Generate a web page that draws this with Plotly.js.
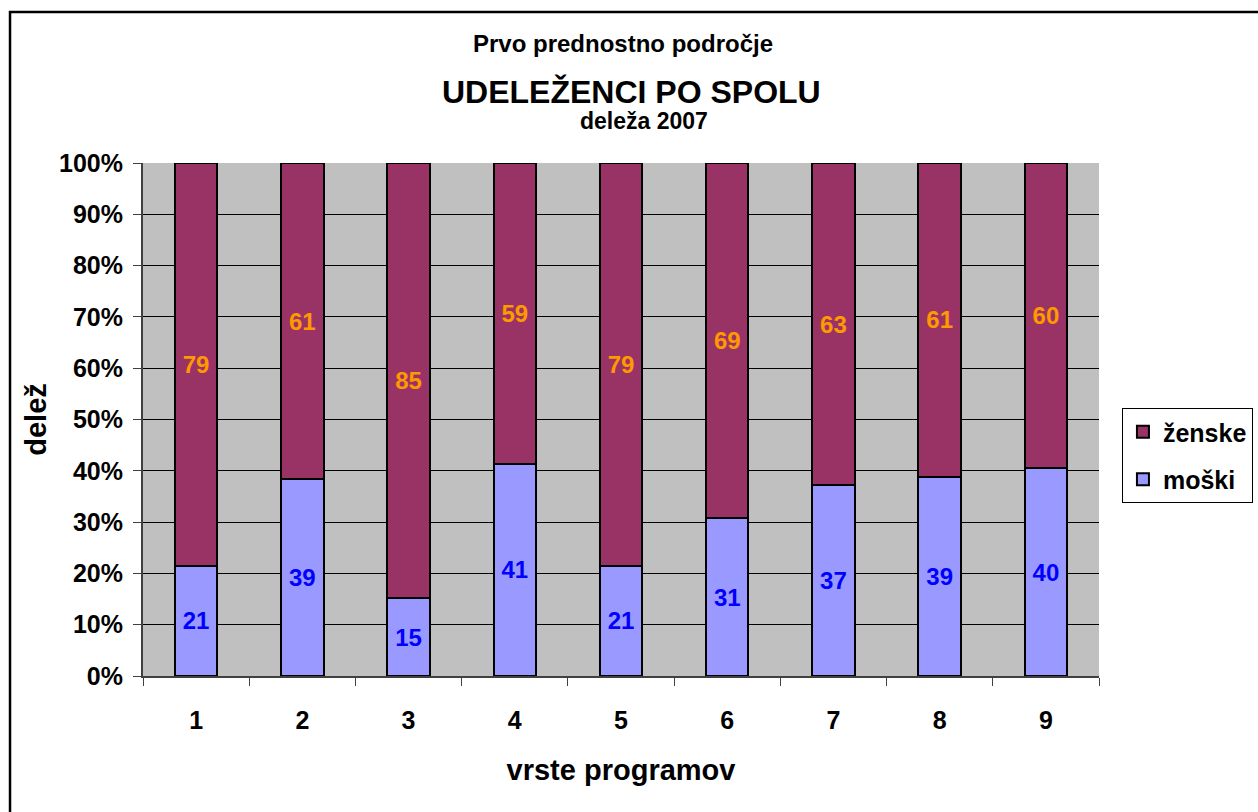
<!DOCTYPE html>
<html>
<head>
<meta charset="utf-8">
<script src="https://cdn.plot.ly/plotly-3.0.1.min.js"></script>
<style>html,body{margin:0;padding:0;background:#fff;}#chart{width:1258px;height:812px;}</style>
</head>
<body>
<div id="chart"></div>
<script>
const categories = ['1','2','3','4','5','6','7','8','9'];
const moski = [21.5, 38.4, 15.2, 41.4, 21.5, 30.8, 37.2, 38.8, 40.5];
const zenske = [78.5, 61.6, 84.8, 58.6, 78.5, 69.2, 62.8, 61.2, 59.5];
const moskiLabels = ['21','39','15','41','21','31','37','39','40'];
const zenskeLabels = ['79','61','85','59','79','69','63','61','60'];
const yTickVals = [0,10,20,30,40,50,60,70,80,90,100];
const yTickText = ['0%','10%','20%','30%','40%','50%','60%','70%','80%','90%','100%'];

const FONT = 'Arial, "Liberation Sans", sans-serif';

const traces = [
  {
    type: 'bar', name: 'moški', x: categories, y: moski,
    text: moskiLabels, textposition: 'inside', insidetextanchor: 'middle',
    textangle: 0, constraintext: 'none', legendrank: 2, legendgroup: 'm',
    textfont: {family: FONT, size: 24, color: '#0000FF', weight: 'bold'},
    marker: {color: '#9999FF', line: {color: '#000000', width: 2}},
    hoverinfo: 'skip'
  },
  {
    type: 'bar', name: 'ženske', x: categories, y: zenske,
    text: zenskeLabels, textposition: 'inside', insidetextanchor: 'middle',
    textangle: 0, constraintext: 'none', legendrank: 1, legendgroup: 'z',
    textfont: {family: FONT, size: 24, color: '#FF9900', weight: 'bold'},
    marker: {color: '#993366', line: {color: '#000000', width: 2}},
    hoverinfo: 'skip'
  }
];

const layout = {
  width: 1258, height: 812,
  margin: {l: 143, r: 159, t: 163, b: 136, pad: 0, autoexpand: false},
  paper_bgcolor: '#FFFFFF', plot_bgcolor: '#C0C0C0',
  barmode: 'stack', bargap: 0.6,
  showlegend: true, hovermode: false,
  font: {family: FONT, color: '#000000'},
  xaxis: {
    type: 'category', tickson: 'boundaries', ticks: 'outside', ticklen: 8,
    tickcolor: '#404040', tickwidth: 1, showline: true, linecolor: '#404040', linewidth: 2,
    showgrid: false, ticklabelstandoff: 21,
    tickfont: {family: FONT, size: 25, weight: 'bold'},
    title: {text: 'vrste programov', standoff: 27, font: {family: FONT, size: 29, weight: 'bold'}},
    fixedrange: true, automargin: false
  },
  yaxis: {
    range: [0, 100], tickvals: yTickVals, ticktext: yTickText,
    ticks: 'outside', ticklen: 8, tickcolor: '#404040', tickwidth: 1,
    showline: true, linecolor: '#404040', linewidth: 2,
    showgrid: true, gridcolor: '#000000', gridwidth: 1, zeroline: false,
    ticklabelstandoff: 5,
    tickfont: {family: FONT, size: 25, weight: 'bold'},
    title: {text: 'delež', standoff: 4, font: {family: FONT, size: 29, weight: 'bold'}},
    fixedrange: true, automargin: false
  },
  legend: {
    x: 1.024, xanchor: 'left', y: 0.5224, yanchor: 'top',
    bgcolor: '#FFFFFF', bordercolor: '#000000', borderwidth: 1,
    traceorder: 'grouped', tracegroupgap: 12,
    font: {family: FONT, size: 25, weight: 'bold', color: '#000000'}
  },
  annotations: [
    {text: 'Prvo prednostno področje', xref: 'paper', yref: 'paper', x: 0.502, y: 1.2339,
     xanchor: 'center', yanchor: 'middle', showarrow: false,
     font: {family: FONT, size: 24, weight: 'bold'}},
    {text: 'UDELEŽENCI PO SPOLU', xref: 'paper', yref: 'paper', x: 0.5105, y: 1.1384,
     xanchor: 'center', yanchor: 'middle', showarrow: false,
     font: {family: FONT, size: 32, weight: 'bold'}},
    {text: 'deleža 2007', xref: 'paper', yref: 'paper', x: 0.524, y: 1.0818,
     xanchor: 'center', yanchor: 'middle', showarrow: false,
     font: {family: FONT, size: 23, weight: 'bold'}}
  ],
  shapes: [
    {type: 'rect', xref: 'paper', yref: 'paper', x0: -0.1391, x1: 1.3, y0: -0.5, y1: 1.2943,
     line: {color: '#000000', width: 2.5}, fillcolor: 'rgba(0,0,0,0)', layer: 'above'}
  ]
};

Plotly.newPlot('chart', traces, layout, {displayModeBar: false, staticPlot: true});
</script>
</body>
</html>
